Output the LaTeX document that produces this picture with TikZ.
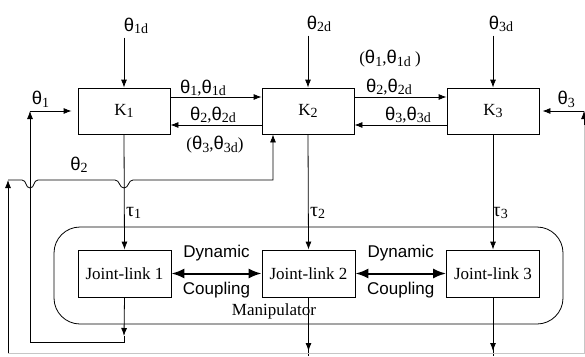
\documentclass[tikz,border=0pt]{standalone}
\usepackage{fontspec}
\setmainfont{Liberation Serif}
\newfontfamily\sansfont{Liberation Sans}
\usetikzlibrary{arrows.meta}
\newcommand{\ind}[1]{\raisebox{-0.3ex}{\fontsize{14}{14}\selectfont #1}}
\newcommand{\ths}[1]{{\sansfont\fontsize{18.5}{20}\selectfont θ}\ind{#1}}
\newcommand{\torq}[1]{{\fontsize{20}{20}\selectfont τ}\ind{#1}}
\begin{document}
\begin{tikzpicture}[x=1pt, y=-1pt, >={Latex[length=8pt,width=6pt]}, line width=0.8pt,
    font=\fontsize{17}{20}\selectfont,
    bloco/.style={draw, rectangle, minimum width=92pt, minimum height=46pt, inner sep=0pt},
    acopl/.style={{Latex[length=13pt,width=10pt]}-{Latex[length=13pt,width=10pt]}, line width=2pt},
    rotulo/.style={font=\sansfont\fontsize{17}{20}\selectfont}]
\useasboundingbox (0,0) rectangle (585,356);
% Controladores
\node[bloco] (k1) at (124,111) {K\ind{1}};
\node[bloco] (k2) at (308,111) {K\ind{2}};
\node[bloco] (k3) at (493,111) {K\ind{3}};
% Referencias
\node (t1d) at (136,26) {\ths{1d}};
\node (t2d) at (319,24) {\ths{2d}};
\node (t3d) at (501,24) {\ths{3d}};
\draw[->] (k1.north |- t1d.south) -- (k1.north);
\draw[->] (k2.north |- t2d.south) -- (k2.north);
\draw[->] (k3.north |- t3d.south) -- (k3.north);
% Troca de sinais entre controladores
\draw[->] ([yshift=14pt]k1.east) -- ([yshift=14pt]k2.west);
\draw[->] ([yshift=-14pt]k2.west) -- ([yshift=-14pt]k1.east);
\draw[->] ([yshift=14pt]k2.east) -- ([yshift=14pt]k3.west);
\draw[->] ([yshift=-14pt]k3.west) -- ([yshift=-14pt]k2.east);
\node at (203,88) {\ths{1},\ths{1d}};
\node at (213,115) {\ths{2},\ths{2d}};
\node at (215,145) {(\ths{3},\ths{3d})};
\node at (390,59) {(\ths{1},\ths{1d} )};
\node at (389,87) {\ths{2},\ths{2d}};
\node at (408,115) {\ths{3},\ths{3d}};
% Manipulador
\node[draw, rounded corners=26pt, minimum width=509pt, minimum height=97pt] (manip) at (308.5,275.5) {};
\node at (274,311) {Manipulator};
\node[bloco, minimum width=93pt, minimum height=47pt] (j1) at (124.5,273.5) {Joint-link 1};
\node[bloco, minimum width=93pt, minimum height=47pt] (j2) at (308.5,273.5) {Joint-link 2};
\node[bloco, minimum width=93pt, minimum height=47pt] (j3) at (493,273.5) {Joint-link 3};
% Torques
\draw[->] (k1.south) -- node[pos=0.68, right, xshift=-2pt] {\torq{1}} (j1.north);
\draw[->] (k2.south) -- node[pos=0.68, right, xshift=-2pt] {\torq{2}} (j2.north);
\draw[->] (k3.south) -- node[pos=0.68, right, xshift=-4pt] {\torq{3}} (j3.north);
% Acoplamento dinamico
\draw[acopl] (j1.east) -- node[above=8pt, rotulo] {Dynamic} node[below=4pt, rotulo] {Coupling} (j2.west);
\draw[acopl] (j2.east) -- node[above=8pt, rotulo] {Dynamic} node[below=4pt, rotulo] {Coupling} (j3.west);
% Saidas
\coordinate (fundo) at (0,356);
\coordinate (ponta) at (0,351);
\coordinate (m1) at (124,336);
\coordinate (b1) at (124,342);
\coordinate (a1) at (30,342);
\coordinate (u1) at (30,111);
\draw[->] (j1.south) -- (m1);
\draw[->] (j2.south) -- (j2.south |- ponta);
\draw[->] (j3.south) -- (j3.south |- ponta);
\draw (j2.south) -- (j2.south |- fundo);
\draw (j3.south) -- (j3.south |- fundo);
% Realimentacao theta1
\draw (m1) -- (b1) -- (a1);
\draw[->] (a1) -- (u1);
\draw[->] (u1) -- node[above, pos=0.25] {\ths{1}} ([xshift=-6pt]k1.west);
% Realimentacao theta2, passando por baixo dos cruzamentos
\coordinate (e2) at (8,353);
\coordinate (c2) at (8,180);
\draw[->] (e2) -- (c2);
\draw[->] (c2) -- (22,180) .. controls (27,180) and (25,188) .. (30,188)
  .. controls (35,188) and (33,180) .. (38,180) -- (115,180)
  .. controls (120,180) and (119,188) .. (124,188)
  .. controls (129,188) and (128,180) .. (133,180) -- (273,180)
  -- ([xshift=-35pt]k2.south);
\node at (79,165) {\ths{2}};
% Realimentacao theta3 (borda)
\coordinate (e3) at (584,353);
\coordinate (u3) at (584,111);
\draw[gray!45] (e2) -- (e3) -- (u3);
\draw[->] ([yshift=-14pt]u3) -- (u3);
\draw[->, shorten >=3pt] (u3) -- node[above, pos=0.4] {\ths{3}} (k3.east);
\end{tikzpicture}
\end{document}
